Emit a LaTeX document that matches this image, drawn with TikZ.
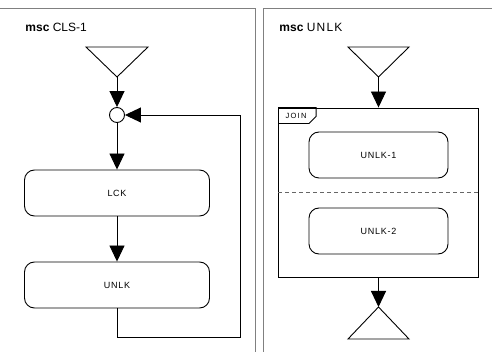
\documentclass[tikz,border=0pt]{standalone}
\usepackage{fontspec}
\setmainfont{Liberation Sans}
\usepackage{tikz}
\usetikzlibrary{positioning}
\usetikzlibrary{arrows.meta}

\begin{document}
\begin{tikzpicture}[x=1pt, y=-1pt, line width=0.9pt,
    >={Triangle[length=16pt, width=15pt]},
    action/.style = {draw, rectangle, rounded corners=10pt, minimum width=185pt, minimum height=46pt, font=\fontsize{9}{10}\selectfont\addfontfeature{LetterSpace=8}},
    subaction/.style = {action, minimum width=139pt},
    frameline/.style = {draw=black!50, line width=1.2pt},
    title/.style = {anchor=west, inner sep=0pt, font=\fontsize{12}{14}\selectfont},
    junction/.style = {draw, circle, fill=white, minimum size=15pt, inner sep=0pt}
    ]
    \useasboundingbox (0,0) rectangle (492,352);

    % frames
    \draw[frameline] (-2,8.5) -- (255.5,8.5) -- (255.5,354);
    \draw[frameline] (263.5,354) -- (263.5,8.5) -- (494,8.5);

    % msc CLS-1
    \node[title] (t1) at (25,27) {\textbf{msc} CLS-1};
    \draw (86,47) -- (148,47) -- (117,77) -- cycle;
    \coordinate (s1) at (117,77);
    \node[junction] (c1) at (117,115) {};
    \node[action] (lck) at (117,193) {LCK};
    \node[action] (unlk) at (117,285) {UNLK};
    \coordinate (back) at (240,337);

    \draw[->] (s1) -- (c1);
    \draw[->] (c1) -- (lck);
    \draw[->] (lck) -- (unlk);
    \draw[->] (unlk) |- (back) |- (c1);

    % msc UNLK
    \node[title] (t2) at (279,27) {\textbf{msc} {\addfontfeature{LetterSpace=10}UNLK}};
    \draw (348,47) -- (409,47) -- (378.5,77) -- cycle;
    \coordinate (s2) at (378.5,77);
    \node[draw, rectangle, minimum width=200pt, minimum height=169pt] (join) at (378.5,192.5) {};
    \draw (join.north west) -- ++(38,0) -- ++(0,9) -- ++(-7,7) -- ++(-31,0);
    \node[font=\fontsize{7.5}{8}\selectfont, inner sep=0pt] (jl) at (296,116) {J\,O\,I\,N};
    \node[subaction] (u1) at (378.5,155) {UNLK-1};
    \node[subaction] (u2) at (378.5,231) {UNLK-2};
    \draw[dashed, draw=black!60, dash pattern=on 4pt off 3pt] (join.west) -- (join.east);
    \coordinate (e2) at (378.5,307);
    \draw (e2) -- (409,339) -- (348,339) -- cycle;

    \draw[->] (s2) -- (join);
    \draw[->] (join) -- (e2);
\end{tikzpicture}
\end{document}
